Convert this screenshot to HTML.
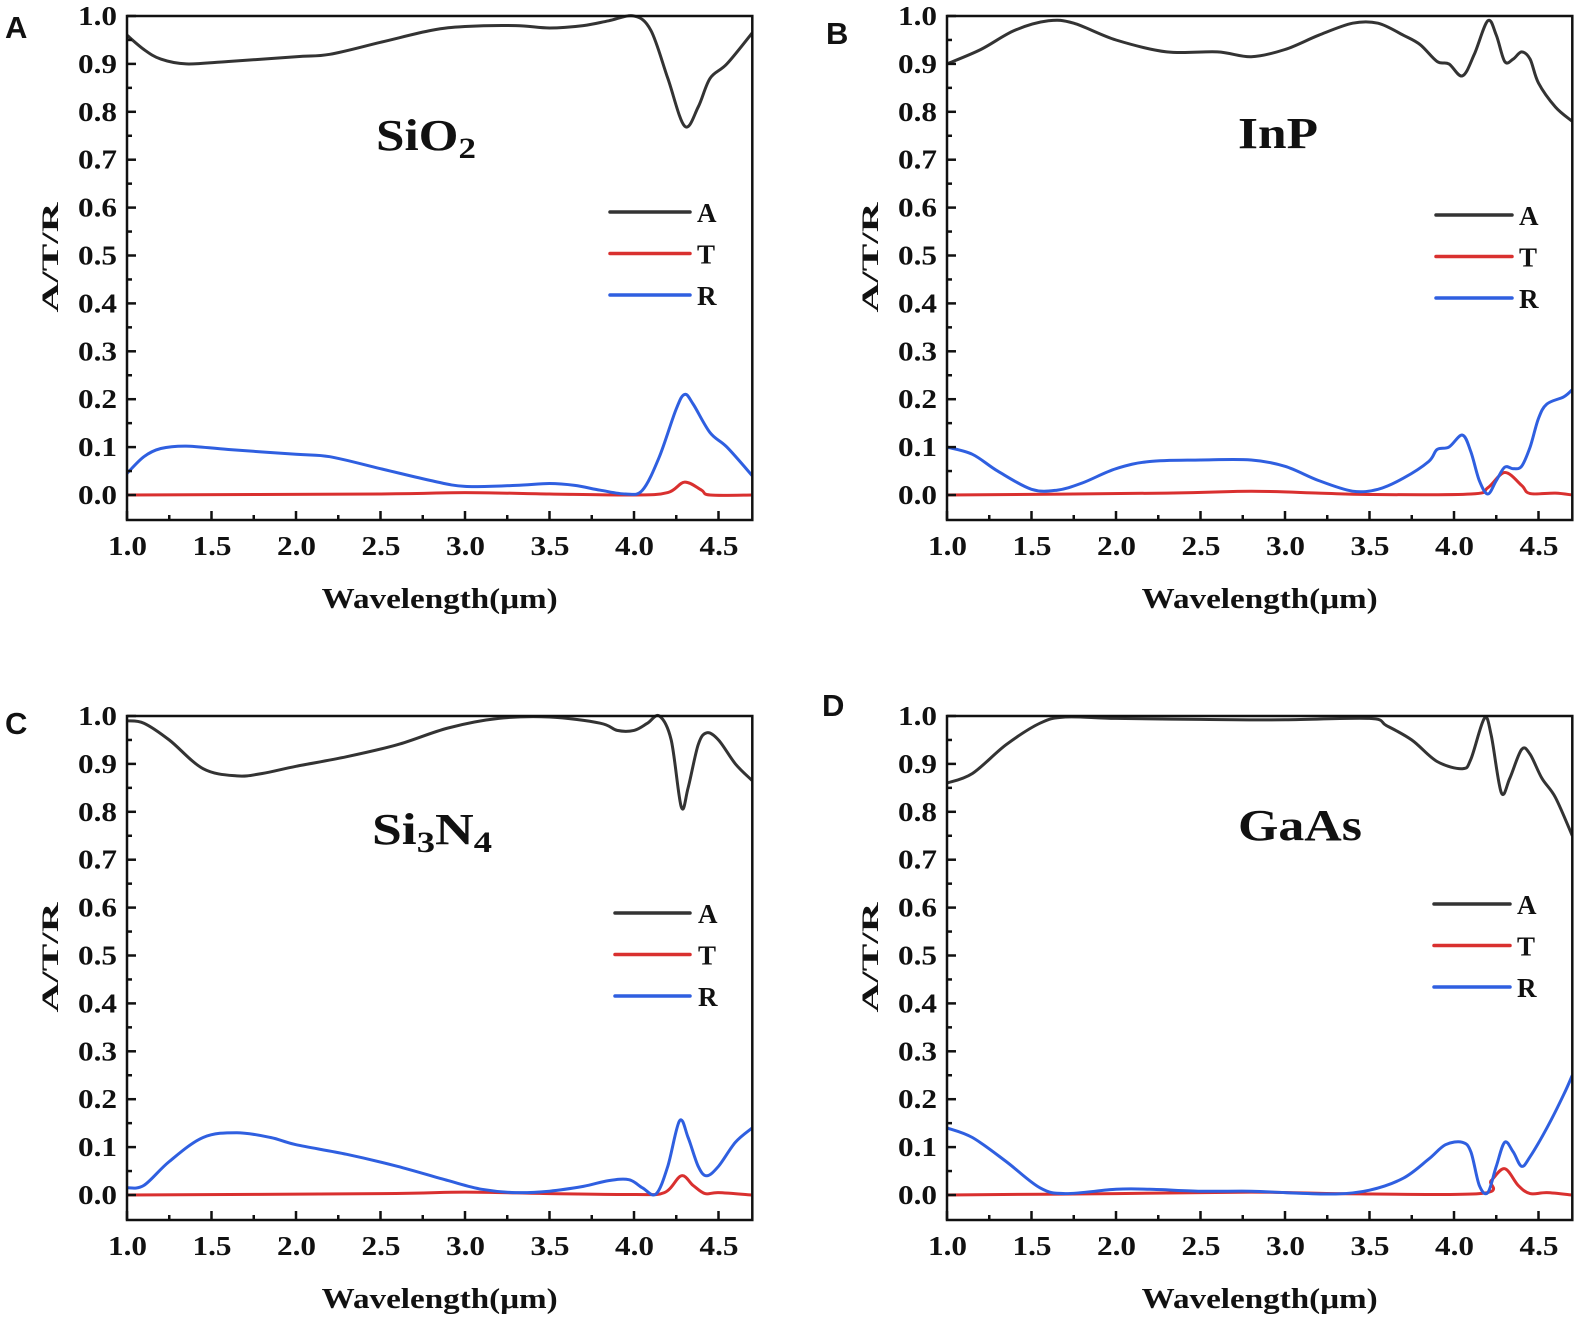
<!DOCTYPE html>
<html><head><meta charset="utf-8"><style>
html,body{margin:0;padding:0;background:#fff;}
svg{display:block;}
text{font-family:"Liberation Serif",serif;font-weight:bold;fill:#111;}
</style></head><body>
<svg id="chart" width="1582" height="1322" viewBox="0 0 1582 1322" xmlns="http://www.w3.org/2000/svg"></svg>
<script>
// Panel A: SiO2
const aAx=[1.0,1.1,1.2,1.35,1.6,2.0,2.2,2.5,2.8,3.0,3.3,3.5,3.7,3.85,4.0,4.1,4.2,4.3,4.38,4.45,4.55,4.7];
const aAy=[0.96,0.93,0.91,0.90,0.905,0.915,0.92,0.945,0.97,0.978,0.98,0.975,0.98,0.99,1.0,0.97,0.87,0.77,0.81,0.87,0.90,0.965];
const aRx=[1.0,1.1,1.2,1.35,1.6,2.0,2.2,2.5,2.8,3.0,3.3,3.5,3.65,3.8,3.95,4.05,4.15,4.25,4.3,4.35,4.45,4.55,4.7];
const aRy=[0.045,0.08,0.097,0.102,0.095,0.085,0.08,0.055,0.03,0.018,0.02,0.024,0.02,0.01,0.002,0.01,0.08,0.18,0.21,0.19,0.13,0.10,0.04];
const aTx=[1.0,2.5,3.0,3.5,4.0,4.2,4.3,4.4,4.45,4.7];
const aTy=[0,0.002,0.005,0.002,0,0.005,0.027,0.01,0,0];
// Panel B: InP
const bAx=[1.0,1.2,1.4,1.6,1.75,2.0,2.3,2.6,2.8,3.0,3.2,3.4,3.55,3.7,3.8,3.9,3.97,4.05,4.12,4.2,4.25,4.3,4.35,4.4,4.45,4.5,4.6,4.7];
const bAy=[0.90,0.93,0.97,0.99,0.985,0.95,0.925,0.925,0.915,0.93,0.96,0.985,0.985,0.96,0.94,0.905,0.90,0.875,0.92,0.99,0.96,0.905,0.91,0.925,0.91,0.86,0.81,0.78];
const bRx=[1.0,1.15,1.3,1.5,1.65,1.8,2.0,2.2,2.5,2.8,3.0,3.2,3.4,3.55,3.7,3.85,3.9,3.97,4.05,4.1,4.15,4.2,4.25,4.3,4.35,4.4,4.45,4.5,4.55,4.65,4.7];
const bRy=[0.10,0.085,0.05,0.012,0.01,0.025,0.055,0.07,0.073,0.073,0.06,0.03,0.008,0.012,0.035,0.07,0.095,0.10,0.125,0.09,0.03,0.002,0.03,0.058,0.055,0.06,0.10,0.16,0.19,0.205,0.22];
const bTx=[1.0,2.3,2.8,3.2,3.5,4.1,4.2,4.3,4.4,4.45,4.6,4.7];
const bTy=[0,0.004,0.008,0.004,0.001,0.002,0.015,0.047,0.02,0.003,0.004,0];
// Panel C: Si3N4
const cAx=[1.0,1.1,1.25,1.45,1.65,1.8,2.0,2.3,2.6,2.9,3.2,3.5,3.8,3.9,4.0,4.08,4.15,4.22,4.28,4.32,4.38,4.43,4.5,4.6,4.7];
const cAy=[0.99,0.985,0.95,0.89,0.875,0.88,0.895,0.915,0.94,0.975,0.995,0.998,0.985,0.97,0.97,0.985,1.0,0.95,0.81,0.85,0.94,0.965,0.95,0.90,0.865];
const cRx=[1.0,1.1,1.25,1.45,1.65,1.85,2.0,2.3,2.6,2.9,3.1,3.3,3.5,3.7,3.85,3.97,4.05,4.13,4.2,4.27,4.32,4.38,4.43,4.5,4.6,4.7];
const cRy=[0.015,0.02,0.07,0.12,0.13,0.12,0.105,0.085,0.06,0.03,0.012,0.005,0.008,0.018,0.03,0.032,0.015,0.002,0.06,0.155,0.12,0.06,0.04,0.06,0.11,0.14];
const cTx=[1.0,2.5,3.0,3.5,4.0,4.18,4.28,4.35,4.42,4.5,4.7];
const cTy=[0,0.003,0.006,0.003,0.001,0.005,0.04,0.02,0.003,0.005,0];
// Panel D: GaAs
const dAx=[1.0,1.15,1.35,1.55,1.7,2.0,2.5,3.0,3.5,3.6,3.75,3.9,4.05,4.1,4.18,4.22,4.28,4.33,4.4,4.45,4.52,4.6,4.7];
const dAy=[0.86,0.88,0.94,0.985,0.998,0.995,0.993,0.992,0.995,0.98,0.95,0.905,0.89,0.91,0.995,0.96,0.84,0.87,0.93,0.92,0.87,0.83,0.75];
const dRx=[1.0,1.15,1.35,1.55,1.7,2.0,2.2,2.5,2.8,3.0,3.3,3.5,3.7,3.85,3.95,4.05,4.1,4.15,4.2,4.25,4.3,4.35,4.4,4.45,4.55,4.65,4.7];
const dRy=[0.14,0.12,0.07,0.015,0.003,0.012,0.012,0.008,0.008,0.005,0.002,0.01,0.035,0.075,0.105,0.11,0.09,0.02,0.005,0.06,0.11,0.09,0.06,0.08,0.14,0.21,0.25];
const dTx=[1.0,2.0,2.8,3.3,4.15,4.22,4.3,4.38,4.45,4.55,4.7];
const dTy=[0,0.003,0.006,0.003,0.003,0.03,0.055,0.02,0.003,0.005,0];

const xTicks=[1.0,1.5,2.0,2.5,3.0,3.5,4.0,4.5];
const yTicks=[0.0,0.1,0.2,0.3,0.4,0.5,0.6,0.7,0.8,0.9,1.0];

const NS="http://www.w3.org/2000/svg";
const svg=document.getElementById('chart');
function mk(tag,attrs,parent){const e=document.createElementNS(NS,tag);for(const k in attrs)e.setAttribute(k,attrs[k]);(parent||svg).appendChild(e);return e;}

const panels=[
 {id:'a',letter:'A',name:'SiO',sub:'2',tail:'',mw:100,x0:127,y0:495,lx:5,ly:38,mx:376,my:150,leg:[610,690,212,697],A:[aAx,aAy],T:[aTx,aTy],R:[aRx,aRy]},
 {id:'b',letter:'B',name:'InP',sub:'',tail:'',mw:80,x0:947,y0:495,lx:826,ly:44,mx:1238,my:148,leg:[1436,1512,215,1519],A:[bAx,bAy],T:[bTx,bTy],R:[bRx,bRy]},
 {id:'c',letter:'C',name:'Si',sub:'3',tail:'N',sub2:'4',mw:120,x0:127,y0:1195,lx:5,ly:734,mx:372,my:844,leg:[615,690,913,698],A:[cAx,cAy],T:[cTx,cTy],R:[cRx,cRy]},
 {id:'d',letter:'D',name:'GaAs',sub:'',tail:'',mw:124,x0:947,y0:1195,lx:822,ly:716,mx:1238,my:840,leg:[1434,1510,904,1517],A:[dAx,dAy],T:[dTx,dTy],R:[dRx,dRy]}
];
const XS=169, YS=479;

function pathFrom(xs,ys,fx,fy){
  const p=xs.map((x,i)=>[fx(x),fy(ys[i])]);
  let d='M'+p[0][0].toFixed(1)+','+p[0][1].toFixed(1);
  for(let i=0;i<p.length-1;i++){
    const p0=p[i-1]||p[i],p1=p[i],p2=p[i+1],p3=p[i+2]||p2;
    const c1=[p1[0]+(p2[0]-p0[0])/6,p1[1]+(p2[1]-p0[1])/6];
    const c2=[p2[0]-(p3[0]-p1[0])/6,p2[1]-(p3[1]-p1[1])/6];
    d+=' C'+c1[0].toFixed(1)+','+c1[1].toFixed(1)+' '+c2[0].toFixed(1)+','+c2[1].toFixed(1)+' '+p2[0].toFixed(1)+','+p2[1].toFixed(1);
  }
  return d;
}

panels.forEach(P=>{
  const fx=x=>P.x0+(x-1)*XS;
  const fy=v=>P.y0-v*YS;
  const g=mk('g',{});
  
  
  const L=fx(1), R=fx(4.7), T=fy(1.0), B=P.y0+25;
  const lt=mk('text',{x:P.lx,y:P.ly,'font-size':31,style:'font-family:"Liberation Sans",sans-serif;font-weight:bold'},g);
  lt.textContent=P.letter;
  
  
  const cp=mk('clipPath',{id:'clip'+P.id},g);
  mk('rect',{x:L,y:T-5,width:R-L,height:B-T+5},cp);
  const series=[['A','#333333'],['T','#d9302f'],['R','#2f5fe0']];
  ['T','R','A'].forEach(k=>{
    const col=series.find(s=>s[0]==k)[1];
    const pth=mk('path',{d:pathFrom(P[k][0],P[k][1],fx,fy),fill:'none',stroke:col,'stroke-width':3,'stroke-linejoin':'round','clip-path':'url(#clip'+P.id+')'},g);
    
    
  });
  const fr=mk('rect',{x:L,y:T,width:R-L,height:B-T,fill:'none',stroke:'#111','stroke-width':2.5},g);
  
  
  for(let i=0;i<15;i++){
    const xv=1+i*0.25; if(xv>4.7)break;
    const major=i%2==0;
    mk('line',{x1:fx(xv),x2:fx(xv),y1:B,y2:B-(major?9:5),stroke:'#111','stroke-width':2.5},g);
  }
  xTicks.forEach(v=>{
    const t=mk('text',{x:fx(v)-19,y:B+35,'font-size':27,textLength:39,lengthAdjust:'spacingAndGlyphs'},g);
    t.textContent=v.toFixed(1);
    
    
  });
  for(let i=0;i<=20;i++){
    const v=i*0.05, major=i%2==0;
    mk('line',{x1:L,x2:L+(major?9:5),y1:fy(v),y2:fy(v),stroke:'#111','stroke-width':2.5},g);
  }
  yTicks.forEach(v=>{
    const t=mk('text',{x:L-49,y:fy(v)+9,'font-size':27,textLength:39,lengthAdjust:'spacingAndGlyphs'},g);
    t.textContent=v.toFixed(1);
    
    
  });
  const xcx=(L+R)/2-0;
  const xt=mk('text',{x:xcx-118,y:B+88,'font-size':28,textLength:236,lengthAdjust:'spacingAndGlyphs'},g);
  xt.textContent='Wavelength(μm)';
  
  
  const cy=fy(0.5)+2;
  const yx=L-77;
  const yt=mk('text',{x:yx-55,y:cy+8,'font-size':23,textLength:110,lengthAdjust:'spacingAndGlyphs',transform:'rotate(-90 '+yx+' '+cy+')'},g);
  yt.textContent='A/T/R';
  
  
  const m=mk('text',{x:P.mx,y:P.my,'font-size':44},g);
  
  
  m.appendChild(document.createTextNode(P.name));
  if(P.sub){const s=mk('tspan',{'font-size':30,dy:8},m);s.textContent=P.sub;}
  if(P.tail){const s=mk('tspan',{'font-size':44,dy:-8},m);s.textContent=P.tail;}
  if(P.sub2){const s=mk('tspan',{'font-size':30,dy:8},m);s.textContent=P.sub2;}
  const bb=m.getBBox();
  if(bb.width>0){const sx=P.mw/bb.width;m.setAttribute('transform','translate('+P.mx+' 0) scale('+sx+' 1) translate('+(-P.mx)+' 0)');}
  const [lx1,lx2,ly,tx]=P.leg;
  series.forEach((s,i)=>{
    const y=ly+i*41.5;
    const ln=mk('line',{x1:lx1,x2:lx2,y1:y,y2:y,stroke:s[1],'stroke-width':3.5,'stroke-linecap':'round'},g);
    
    
    const t=mk('text',{x:tx,y:y+10,'font-size':27},g);
    t.textContent=s[0];
    
    
  });
});
</script>
</body></html>
